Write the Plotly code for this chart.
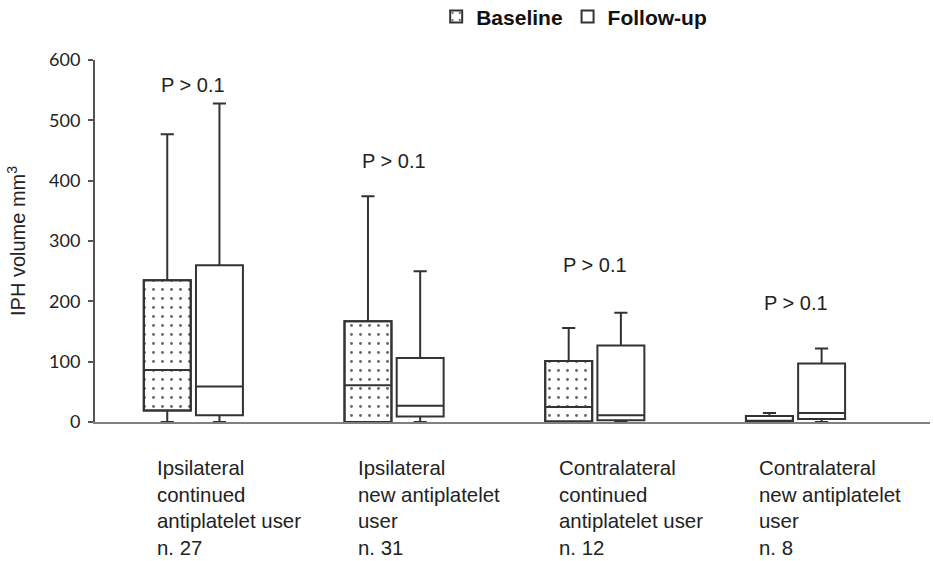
import plotly.graph_objects as go

# ---- data ----
groups = [
    "Ipsilateral<br>continued<br>antiplatelet user<br>n. 27",
    "Ipsilateral<br>new antiplatelet<br>user<br>n. 31",
    "Contralateral<br>continued<br>antiplatelet user<br>n. 12",
    "Contralateral<br>new antiplatelet<br>user<br>n. 8",
]
p_labels = ["P > 0.1", "P > 0.1", "P > 0.1", "P > 0.1"]
p_label_y = [559, 433, 260, 197]

base_min = [0, 0, 0, 0]
base_q1 = [19, 0, 1, 0]
base_median = [86, 61, 25, 2]
base_q3 = [235, 167, 101, 10]
base_max = [477, 374, 156, 15]

fu_min = [0, 0, 0, 0]
fu_q1 = [11, 9, 3, 5]
fu_median = [59, 27, 11, 15]
fu_q3 = [260, 106, 127, 97]
fu_max = [528, 250, 181, 122]

y_ticks = [0, 100, 200, 300, 400, 500, 600]

# ---- layout helpers (positions only) ----
idx = list(range(len(groups)))
off = 0.13
bw = 0.234
xb = [i - off for i in idx]
xf = [i + off for i in idx]
line_col = "#333333"
txt_font = "Liberation Sans, Arial"

fig = go.Figure()

# dotted fill for baseline boxes
fig.add_trace(go.Bar(
    x=xb, y=[q3 - q1 for q1, q3 in zip(base_q1, base_q3)], base=base_q1,
    width=bw, name="<b>Baseline</b>", showlegend=True,
    marker=dict(color="white",
                pattern=dict(shape=".", size=9, solidity=0.08, fgcolor="#666666", bgcolor="white"),
                line=dict(color=line_col, width=2)),
    hoverinfo="skip",
))

fig.add_trace(go.Box(
    x=xb, q1=base_q1, median=base_median, q3=base_q3,
    lowerfence=base_min, upperfence=base_max,
    width=bw, whiskerwidth=0.28, boxpoints=False,
    fillcolor="rgba(0,0,0,0)", line=dict(color=line_col, width=2),
    showlegend=False, name="Baseline",
))

fig.add_trace(go.Box(
    x=xf, q1=fu_q1, median=fu_median, q3=fu_q3,
    lowerfence=fu_min, upperfence=fu_max,
    width=bw, whiskerwidth=0.28, boxpoints=False,
    fillcolor="white", line=dict(color=line_col, width=2),
    name="<b>Follow-up</b>", showlegend=True,
))

for i, t, yv in zip(idx, p_labels, p_label_y):
    fig.add_annotation(x=i, y=yv, xref="x", yref="y", text=t, showarrow=False,
                       font=dict(size=20, color="#222222", family=txt_font))

for i, g in zip(idx, groups):
    fig.add_annotation(x=i - 0.19, y=-0.09, xref="x", yref="paper", text=g,
                       showarrow=False, xanchor="left", yanchor="top", align="left",
                       font=dict(size=20.4, color="#222222", family=txt_font))

fig.update_layout(
    template="none",
    width=934, height=561,
    margin=dict(l=95, r=4, t=60, b=139, autoexpand=False),
    paper_bgcolor="white", plot_bgcolor="white",
    barmode="overlay", boxmode="overlay",
    legend=dict(orientation="h", xref="container", yref="container",
                x=0.467, y=0.97, xanchor="left", yanchor="middle",
                font=dict(size=21, color="#111111", family=txt_font),
                itemwidth=30, tracegroupgap=0, bgcolor="rgba(0,0,0,0)"),
    xaxis=dict(range=[-0.49, 3.67], showticklabels=False, ticks="", showgrid=False,
               zeroline=False, showline=True, linecolor="#808080", linewidth=2,
               automargin=False),
    yaxis=dict(range=[0, 600], tickvals=y_ticks, ticks="outside", ticklen=5,
               tickcolor="#555555", tickwidth=1.5, showgrid=False, zeroline=False,
               showline=True, linecolor="#555555", linewidth=2, automargin=False,
               ticklabelstandoff=4,
               tickfont=dict(size=18, color="#222222", family="Lato, Liberation Sans"),
               title=dict(text="IPH volume mm<sup>3</sup>", standoff=18,
                          font=dict(size=20, color="#222222", family=txt_font))),
)

fig.write_html("out.html",
               config={"displayModeBar": False},
               post_script="document.body.style.margin='0';document.body.style.overflow='hidden';")
